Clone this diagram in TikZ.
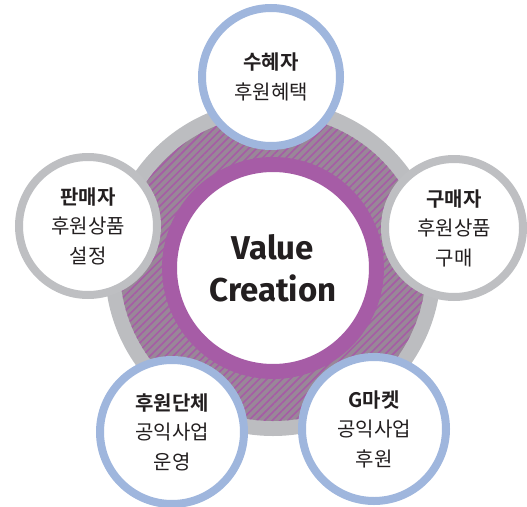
\documentclass[tikz,border=0pt]{standalone}
\usepackage{fontspec}
\setmainfont{Noto Sans CJK KR}[BoldFont={* Bold}]
\newfontfamily\valuefont{Fira Sans}
\usetikzlibrary{patterns.meta}
\definecolor{vcpurple}{HTML}{A65CA6}
\definecolor{vchatch}{HTML}{998798}
\definecolor{vcgray}{HTML}{BCBDC0}
\definecolor{vcblue}{HTML}{9FB6DD}
\definecolor{vcrim}{HTML}{BEBFC2}
\definecolor{vctext}{HTML}{231F20}

\begin{document}
\begin{tikzpicture}[x=1pt,y=-1pt,
    party/.style={circle,draw=#1,line width=8pt,fill=white,inner sep=0pt,
      minimum size=138pt,align=center,text=vctext,
      font=\fontsize{20}{29.5}\selectfont}]
      \useasboundingbox (0,0) rectangle (527,506);
      \path (273,268) coordinate(mid);

      \fill[vcgray] (mid) circle (168pt);
      \fill[vchatch] (mid) circle (153pt);
      \fill[pattern={Lines[angle=45,distance=5.5pt,line width=1.6pt]},
        pattern color=vcpurple] (mid) circle (153pt);
      \draw[vcpurple,line width=15pt,fill=white] (mid) circle (103.5pt);

      \path
      (273,268) node[text=vctext,align=center,
        font=\valuefont\bfseries\fontsize{33}{42}\selectfont](core) {Value\\Creation}
      ;
      \path
      (271,77) node[party=vcblue](ben) {\textbf{수혜자}\\후원혜택}
      (88,226) node[party=vcrim](sel) {\textbf{판매자}\\후원상품\\설정}
      (454,228) node[party=vcrim](buy) {\textbf{구매자}\\후원상품\\구매}
      (172,432) node[party=vcblue,minimum size=144pt](org) {\textbf{후원단체}\\공익사업\\운영}
      (374,429) node[party=vcblue,minimum size=144pt](gm) {\textbf{G마켓}\\공익사업\\후원}
      ;
    \end{tikzpicture}
\end{document}
